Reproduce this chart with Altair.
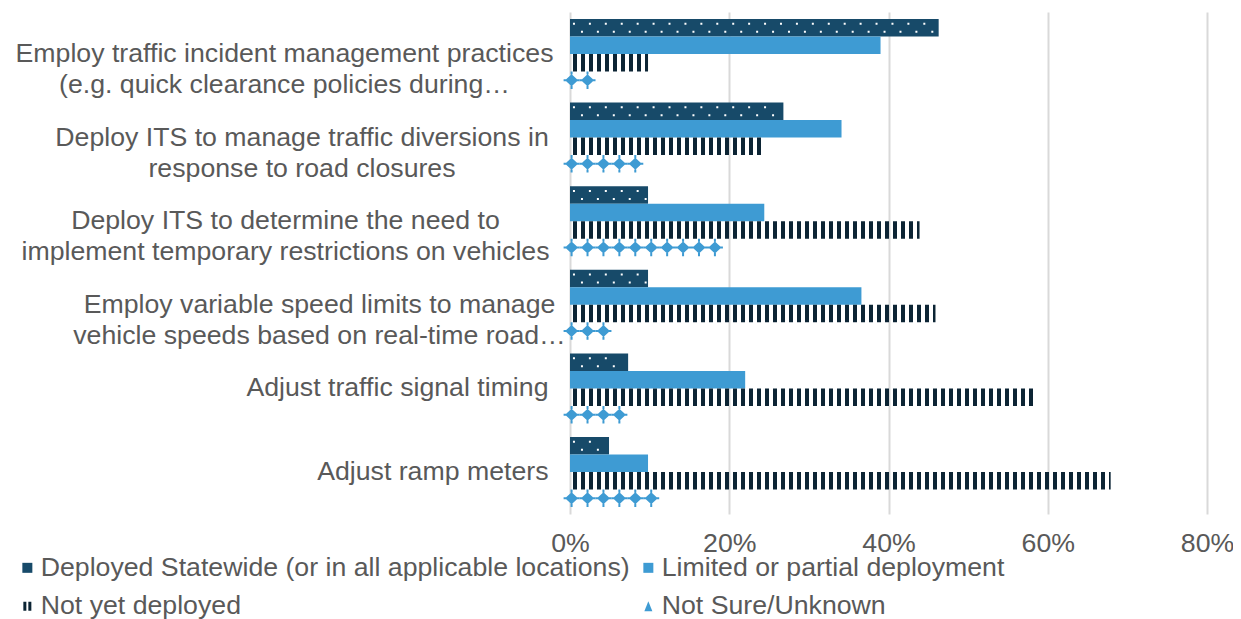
import json
import altair as alt
import pandas as pd

# ---------------- data ----------------
categories = [
    "Employ traffic incident management practices|(e.g. quick clearance policies during\u2026",
    "Deploy ITS to manage traffic diversions in|response to road closures",
    "Deploy ITS to determine the need to|implement temporary restrictions on vehicles",
    "Employ variable speed limits to manage|vehicle speeds based on real-time road\u2026",
    "Adjust traffic signal timing",
    "Adjust ramp meters",
]
series = [
    "Deployed Statewide (or in all applicable locations)",
    "Limited or partial deployment",
    "Not yet deployed",
    "Not Sure/Unknown",
]
deployed_statewide = [0.463, 0.268, 0.098, 0.098, 0.073, 0.049]
limited_partial = [0.390, 0.341, 0.244, 0.366, 0.220, 0.098]
not_yet_deployed = [0.098, 0.244, 0.439, 0.459, 0.585, 0.679]
not_sure = [0.024, 0.098, 0.195, 0.049, 0.073, 0.122]
x_ticks = [0, 0.2, 0.4, 0.6, 0.8]

# ---------------- styles ----------------
DARK = "#174A69"
BLUE = "#3E9BD3"
STRIPE = "#0C2434"
TEXT = "#595959"
GRID = "#D9D9D9"
FONT = "Liberation Sans"
FS = 26.7

rows = []
for s, vals in zip(series, [deployed_statewide, limited_partial, not_yet_deployed, not_sure]):
    for c, v in zip(categories, vals):
        rows.append({"category": c, "series": s, "value": v})
df = pd.DataFrame(rows)

# per-label padding for the centred two-line labels
centre_pad = {categories[0]: 286, categories[1]: 268.5, categories[2]: 285, categories[3]: 251}
pad_cond = [
    {"test": f"datum.value === {json.dumps(k)}", "value": v} for k, v in centre_pad.items()
]

y_axis = alt.Axis(
    title=None, domain=False, ticks=False, grid=False,
    labelFont=FONT, labelFontSize=FS, labelColor=TEXT, labelLimit=1000,
    labelLineHeight=31, labelExpr="split(datum.label, '|')",
    labelBaseline="middle",
    labelAlign={"condition": {"test": "indexof(datum.value, '|') >= 0", "value": "center"}, "value": "right"},
    labelPadding={"condition": pad_cond, "value": 22},
)
x_axis = alt.Axis(
    title=None, format=".0%", values=x_ticks, domain=False, ticks=False,
    grid=True, gridColor=GRID, gridWidth=2, labelFlush=False,
    labelFont=FONT, labelFontSize=FS, labelColor=TEXT, labelPadding=16,
)
x_scale = alt.Scale(domain=[0, 0.8], nice=False)


def Y():
    return alt.Y("category:N", sort=categories,
                 scale=alt.Scale(domain=categories, paddingInner=0.163, paddingOuter=0.0835),
                 axis=y_axis)


def YO():
    return alt.YOffset("series:N", sort=series, scale=alt.Scale(domain=series))


base = alt.Chart(df)

def only(s):
    return base.transform_filter(alt.datum.series == s)

bars_dark = only(series[0]).mark_bar(color=DARK).encode(
    x=alt.X("value:Q", scale=x_scale, axis=x_axis), y=Y(), yOffset=YO())
bars_blue = only(series[1]).mark_bar(color=BLUE).encode(
    x=alt.X("value:Q", scale=x_scale, axis=x_axis), y=Y(), yOffset=YO())

# white dot pattern on the statewide bars: one two-dot tile every 2 percentage points
DOT_TILE = "M-0.625,-0.625H-0.375V-0.375H-0.625Z M0.375,0.375H0.625V0.625H0.375Z"
dots = (
    only(series[0])
    .transform_calculate(pos="sequence(0.01, datum.value - 0.006, 0.02)")
    .transform_flatten(["pos"])
    .mark_point(shape=DOT_TILE, filled=True, size=256, color="white", opacity=1, strokeWidth=0)
    .encode(x=alt.X("pos:Q", scale=x_scale, axis=x_axis), y=Y(), yOffset=YO())
)

# vertical stripe pattern for "Not yet deployed"
stripes = (
    only(series[2]).transform_calculate(start="0")
    .mark_rule(color=STRIPE, strokeWidth=17.5, strokeDash=[4, 4], strokeDashOffset=5)
    .encode(x=alt.X("start:Q", scale=x_scale, axis=x_axis), x2="value", y=Y(), yOffset=YO())
)

# diamond pattern tile for "Not Sure/Unknown" (diamond + thin connectors)
DIAMOND_TILE = (
    "M-0.8125,0L0,-0.75L0.8125,0L0,0.75Z "
    "M-1,-0.125H1V0.125H-1Z "
    "M-0.125,-1.09H0.125V-0.7H-0.125Z "
    "M-0.125,0.7H0.125V1.09H-0.125Z"
)
diamonds = (
    only(series[3])
    .transform_calculate(pos="sequence(0.002, datum.value, 0.02)")
    .transform_flatten(["pos"])
    .mark_point(shape=DIAMOND_TILE, filled=True, size=256, color=BLUE, opacity=1, strokeWidth=0)
    .encode(x=alt.X("pos:Q", scale=x_scale, axis=x_axis), y=Y(), yOffset=YO())
)

legend = alt.Legend(
    title=None, orient="none", legendX=-556, legendY=542, columns=2,
    direction="horizontal", labelFont=FONT, labelFontSize=FS, labelColor=TEXT,
    labelLimit=1000, symbolSize=100, labelOffset=0, columnPadding=5,
    rowPadding=11, padding=0, symbolStrokeWidth=0,
)
legend_layer = (
    base.transform_filter("false")
    .mark_point(filled=True, opacity=1)
    .encode(
        x=alt.X("value:Q", scale=x_scale, axis=x_axis), y=Y(),
        color=alt.Color("series:N", scale=alt.Scale(domain=series, range=[DARK, BLUE, STRIPE, BLUE]),
                        legend=legend),
        shape=alt.Shape("series:N", scale=alt.Scale(
            domain=series,
            range=["square", "square",
                   "M-0.8,-0.9H-0.2V0.9H-0.8Z M0.2,-0.9H0.8V0.9H0.2Z",
                   "M0,-1L0.8,1H-0.8Z"]), legend=legend),
    )
)

chart = (
    alt.layer(bars_dark, bars_blue, dots, stripes, diamonds, legend_layer)
    .properties(
        width=637, height=502,
        padding={"left": 562, "top": 4, "right": 26, "bottom": 110},
        autosize=alt.AutoSizeParams(type="none"),
    )
    .configure_view(stroke=None)
)

chart.save("out.html", embed_options={"renderer": "svg", "actions": False})
